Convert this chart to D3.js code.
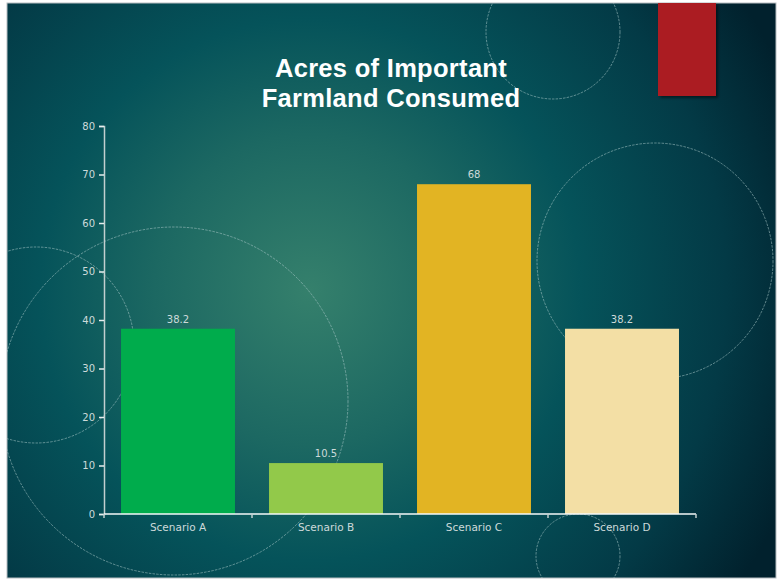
<!DOCTYPE html>
<html>
<head>
<meta charset="utf-8">
<script src="https://cdn.jsdelivr.net/npm/d3@7"></script>
<style>
html, body { margin: 0; padding: 0; background: #fff; }
svg { display: block; }
</style>
</head>
<body>
<svg></svg>
<script>
// chart values
var categories = ["Scenario A", "Scenario B", "Scenario C", "Scenario D"];
var acres = [38.2, 10.5, 68, 38.2];
var barColors = ["#00ac4c", "#92c94a", "#e2b423", "#f3dfa5"];
var yTicks = [0, 10, 20, 30, 40, 50, 60, 70, 80];
var titleLines = ["Acres of Important", "Farmland Consumed"];

var W = 781, H = 581;
var svg = d3.select("svg").attr("width", W).attr("height", H);

// slide box
var slide = {x: 7, y: 3, w: 769, h: 575};
var defs = svg.append("defs");

var grad = defs.append("radialGradient")
	.attr("id", "bg")
	.attr("gradientUnits", "userSpaceOnUse")
	.attr("cx", 310).attr("cy", 290).attr("r", 520);
grad.append("stop").attr("offset", "0").attr("stop-color", "#35806c");
grad.append("stop").attr("offset", "0.3").attr("stop-color", "#1c6862");
grad.append("stop").attr("offset", "0.52").attr("stop-color", "#05535a");
grad.append("stop").attr("offset", "0.8").attr("stop-color", "#033a46");
grad.append("stop").attr("offset", "1").attr("stop-color", "#01212d");

defs.append("clipPath").attr("id", "slideclip")
	.append("rect")
	.attr("x", slide.x).attr("y", slide.y)
	.attr("width", slide.w).attr("height", slide.h);

var shadow = defs.append("filter").attr("id", "shadow")
	.attr("x", "-20%").attr("y", "-20%").attr("width", "150%").attr("height", "150%");
shadow.append("feDropShadow")
	.attr("dx", 2).attr("dy", 2).attr("stdDeviation", 1.5)
	.attr("flood-color", "#000").attr("flood-opacity", 0.5);

svg.append("rect")
	.attr("x", slide.x).attr("y", slide.y)
	.attr("width", slide.w).attr("height", slide.h)
	.attr("fill", "url(#bg)")
	.attr("stroke", "#b8bec2").attr("stroke-width", 1);

// decorative circles
var rings = [
	{cx: 553, cy: 32, r: 67},
	{cx: 655, cy: 261, r: 118},
	{cx: 174, cy: 401, r: 174},
	{cx: 36, cy: 345, r: 98},
	{cx: 578, cy: 556, r: 42}
];
svg.append("g").attr("clip-path", "url(#slideclip)")
	.selectAll("circle").data(rings)
	.enter().append("circle")
	.attr("cx", d => d.cx).attr("cy", d => d.cy).attr("r", d => d.r)
	.attr("fill", "none")
	.attr("stroke", "#a8c8c8")
	.attr("stroke-opacity", 0.7)
	.attr("stroke-width", 0.8)
	.attr("stroke-dasharray", "2.5,1.2");

// red accent
svg.append("rect")
	.attr("x", 658).attr("y", slide.y)
	.attr("width", 58).attr("height", 93)
	.attr("fill", "#ab1f23")
	.attr("filter", "url(#shadow)");

// title
svg.append("text")
	.attr("x", 391).attr("y", 77)
	.attr("text-anchor", "middle")
	.attr("fill", "#fff")
	.style("font-family", "'Liberation Sans', Arial, sans-serif")
	.style("font-size", "25.5px")
	.style("font-weight", "bold")
	.style("letter-spacing", "0.3px")
	.selectAll("tspan").data(titleLines)
	.enter().append("tspan")
	.attr("x", 391)
	.attr("dy", (d, i) => i ? 30 : 0)
	.text(d => d);

// scales
var x = d3.scaleBand().domain(categories).range([104, 696]).paddingInner(0.23).paddingOuter(0.115);
var y = d3.scaleLinear().domain([0, 80]).range([514, 126]);

var labelFont = "'DejaVu Sans', 'Noto Sans', sans-serif";
var textColor = "#cddada";

// bars
svg.selectAll(".bar").data(acres)
	.enter().append("rect")
	.attr("class", "bar")
	.attr("x", (d, i) => x(categories[i]))
	.attr("y", d => y(d))
	.attr("width", x.bandwidth())
	.attr("height", d => y(0) - y(d))
	.attr("fill", (d, i) => barColors[i]);

svg.selectAll(".val").data(acres)
	.enter().append("text")
	.attr("class", "val")
	.attr("x", (d, i) => x(categories[i]) + x.bandwidth() / 2)
	.attr("y", d => y(d) - 6)
	.attr("text-anchor", "middle")
	.attr("fill", textColor)
	.style("font-family", labelFont)
	.style("font-size", "10px")
	.text(d => d);

// y axis
var yAxis = svg.append("g")
	.attr("transform", "translate(104,0)")
	.call(d3.axisLeft(y).tickValues(yTicks).tickSize(5).tickPadding(4));
yAxis.select(".domain").attr("stroke", "#c2cfcf").attr("stroke-width", 1.5);
yAxis.selectAll(".tick line").attr("stroke", "#e6eeee").attr("stroke-width", 1.5);
yAxis.selectAll(".tick text")
	.attr("fill", textColor)
	.style("font-family", labelFont)
	.style("font-size", "10px");

// x axis: ticks at band edges
var edges = categories.map(c => x(c) - x.step() * x.paddingInner() / 2).concat([696]);
edges[0] = 104;
var xAxis = svg.append("g").attr("transform", "translate(0,514)");
xAxis.append("line")
	.attr("x1", 104).attr("x2", 696)
	.attr("stroke", "#f4f8f8").attr("stroke-width", 1.5);
xAxis.selectAll(".etick").data(edges)
	.enter().append("line")
	.attr("class", "etick")
	.attr("x1", d => d).attr("x2", d => d)
	.attr("y1", 0).attr("y2", 4)
	.attr("stroke", "#c2cfcf").attr("stroke-width", 1.5);
xAxis.selectAll(".clabel").data(categories)
	.enter().append("text")
	.attr("class", "clabel")
	.attr("x", d => x(d) + x.bandwidth() / 2)
	.attr("y", 17)
	.attr("text-anchor", "middle")
	.attr("fill", textColor)
	.style("font-family", labelFont)
	.style("font-size", "10.5px")
	.text(d => d);
</script>
</body>
</html>
